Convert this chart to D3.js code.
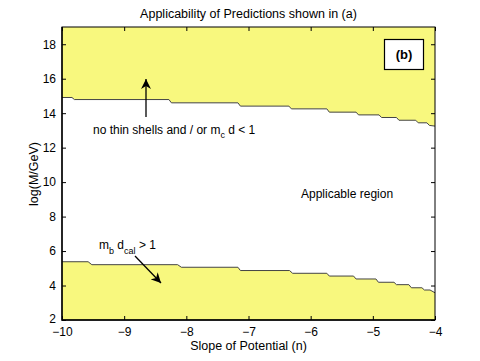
<!DOCTYPE html>
<html><head><meta charset="utf-8">
<script src="https://cdn.jsdelivr.net/npm/d3@7"></script>
<style>body{margin:0;background:#fff}text{font-family:"Liberation Sans",Arial,sans-serif}</style>
</head><body><svg id="c" width="480" height="361"></svg>
<script>
const xTicks = [-10, -9, -8, -7, -6, -5, -4];
const yTicks = [2, 4, 6, 8, 10, 12, 14, 16, 18];
// upper boundary (no thin shells) : slope n, log(M/GeV)
const upperN = [-10, -9.84, -9.80, -8.28, -8.24, -7.17, -7.13, -6.35, -6.31, -5.74, -5.70, -5.27, -5.23, -4.90, -4.86, -4.62, -4.58, -4.31, -4.27, -4.13, -4.09, -4];
const upperM = [14.91, 14.91, 14.79, 14.79, 14.60, 14.60, 14.41, 14.41, 14.25, 14.25, 14.06, 14.06, 13.90, 13.90, 13.75, 13.75, 13.59, 13.59, 13.44, 13.44, 13.29, 13.25];
// lower boundary (m_b d_cal > 1)
const lowerN = [-10, -9.58, -9.52, -8.14, -8.08, -7.17, -7.13, -6.34, -6.29, -5.74, -5.70, -5.31, -5.27, -4.95, -4.91, -4.66, -4.62, -4.42, -4.38, -4.21, -4.17, -4.08, -4];
const lowerM = [5.38, 5.38, 5.21, 5.21, 5.06, 5.06, 4.87, 4.87, 4.71, 4.71, 4.55, 4.55, 4.38, 4.38, 4.19, 4.19, 4.05, 4.05, 3.87, 3.87, 3.74, 3.74, 3.58];

const svg = d3.select("#c");
const L = 62, R = 435, T = 27, B = 320;
const x = d3.scaleLinear().domain([-10, -4]).range([L, R]);
const y = d3.scaleLinear().domain([2, 19]).range([B, T]);
const fill = "#f8f87e";

const up = upperN.map((n, i) => [n, upperM[i]]);
const lo = lowerN.map((n, i) => [n, lowerM[i]]);

svg.append("path").datum(up)
  .attr("d", d3.area().x(d => x(d[0])).y0(y(19)).y1(d => y(d[1])))
  .attr("fill", fill);
svg.append("path").datum(lo)
  .attr("d", d3.area().x(d => x(d[0])).y0(y(2)).y1(d => y(d[1])))
  .attr("fill", fill);
const line = d3.line().x(d => x(d[0])).y(d => y(d[1]));
svg.append("path").datum(up).attr("d", line).attr("fill", "none").attr("stroke", "#444").attr("stroke-width", 1);
svg.append("path").datum(lo).attr("d", line).attr("fill", "none").attr("stroke", "#444").attr("stroke-width", 1);

// axes
const ax = (g) => g.selectAll("text").attr("font-size", "12px").attr("fill", "#000").attr("font-family", "Liberation Sans, Arial, sans-serif");
svg.append("g").attr("transform", `translate(0,${B})`)
  .call(d3.axisBottom(x).tickValues(xTicks).tickSizeInner(-4).tickSizeOuter(0).tickPadding(7).tickFormat(d3.format("d")))
  .call(ax).call(g => g.select(".domain").remove());
svg.append("g").attr("transform", `translate(0,${T})`)
  .call(d3.axisTop(x).tickValues(xTicks).tickSizeInner(-4).tickSizeOuter(0).tickFormat(""))
  .call(g => g.select(".domain").remove());
svg.append("g").attr("transform", `translate(${L},0)`)
  .call(d3.axisLeft(y).tickValues(yTicks).tickSizeInner(-4).tickSizeOuter(0).tickPadding(6))
  .call(ax).call(g => g.select(".domain").remove())
  .call(g => g.selectAll(".tick").filter(d => d === 2).select("text").attr("dy", "0.2em"));
svg.append("g").attr("transform", `translate(${R},0)`)
  .call(d3.axisRight(y).tickValues(yTicks).tickSizeInner(-4).tickSizeOuter(0).tickFormat(""))
  .call(g => g.select(".domain").remove());
svg.append("rect").attr("x", L).attr("y", T).attr("width", R - L).attr("height", B - T)
  .attr("fill", "none").attr("stroke", "#000").attr("stroke-width", 1);
svg.append("path").attr("d", `M${L},${T}V${B}H${R}`).attr("fill", "none").attr("stroke", "#000").attr("stroke-width", 1.4);

// titles
svg.append("text").attr("x", 248.5).attr("y", 18).attr("text-anchor", "middle").attr("font-size", "12.5px").text("Applicability of Predictions shown in (a)");
svg.append("text").attr("x", 248.5).attr("y", 350).attr("text-anchor", "middle").attr("font-size", "12.5px").text("Slope of Potential (n)");
svg.append("text").attr("transform", "translate(38,174) rotate(-90)").attr("text-anchor", "middle").attr("font-size", "12.5px").text("log(M/GeV)");

// (b) label box
svg.append("rect").attr("x", 384.5).attr("y", 39.5).attr("width", 39).attr("height", 30).attr("fill", "#fff").attr("stroke", "#000").attr("stroke-width", 1.2);
svg.append("text").attr("x", 404).attr("y", 59).attr("text-anchor", "middle").attr("font-size", "13px").attr("font-weight", "bold").text("(b)");

// annotations
const defs = svg.append("defs");
defs.append("marker").attr("id", "ah").attr("viewBox", "0 0 10 10").attr("refX", 10).attr("refY", 5)
  .attr("markerWidth", 10).attr("markerHeight", 10).attr("markerUnits", "userSpaceOnUse").attr("orient", "auto")
  .append("path").attr("d", "M0,0 L10,5 L0,10 L3,5 Z").attr("fill", "#000");
svg.append("line").attr("x1", 146).attr("y1", 117).attr("x2", 146).attr("y2", 79)
  .attr("stroke", "#000").attr("stroke-width", 1.3).attr("marker-end", "url(#ah)");
svg.append("line").attr("x1", 135).attr("y1", 256).attr("x2", 161).attr("y2", 283)
  .attr("stroke", "#000").attr("stroke-width", 1.3).attr("marker-end", "url(#ah)");

const t1 = svg.append("text").attr("x", 93).attr("y", 134).attr("font-size", "12px");
t1.append("tspan").text("no thin shells and / or m");
t1.append("tspan").attr("dy", 4).attr("font-size", "9px").text("c");
t1.append("tspan").attr("dy", -4).text(" d < 1");

const t2 = svg.append("text").attr("x", 99).attr("y", 249).attr("font-size", "12px");
t2.append("tspan").text("m");
t2.append("tspan").attr("dy", 5).attr("font-size", "9px").text("b");
t2.append("tspan").attr("dy", -5).text(" d");
t2.append("tspan").attr("dy", 5).attr("font-size", "9px").text("cal");
t2.append("tspan").attr("dy", -5).text(" > 1");

svg.append("text").attr("x", 301).attr("y", 198).attr("font-size", "12px").text("Applicable region");
</script></body></html>
